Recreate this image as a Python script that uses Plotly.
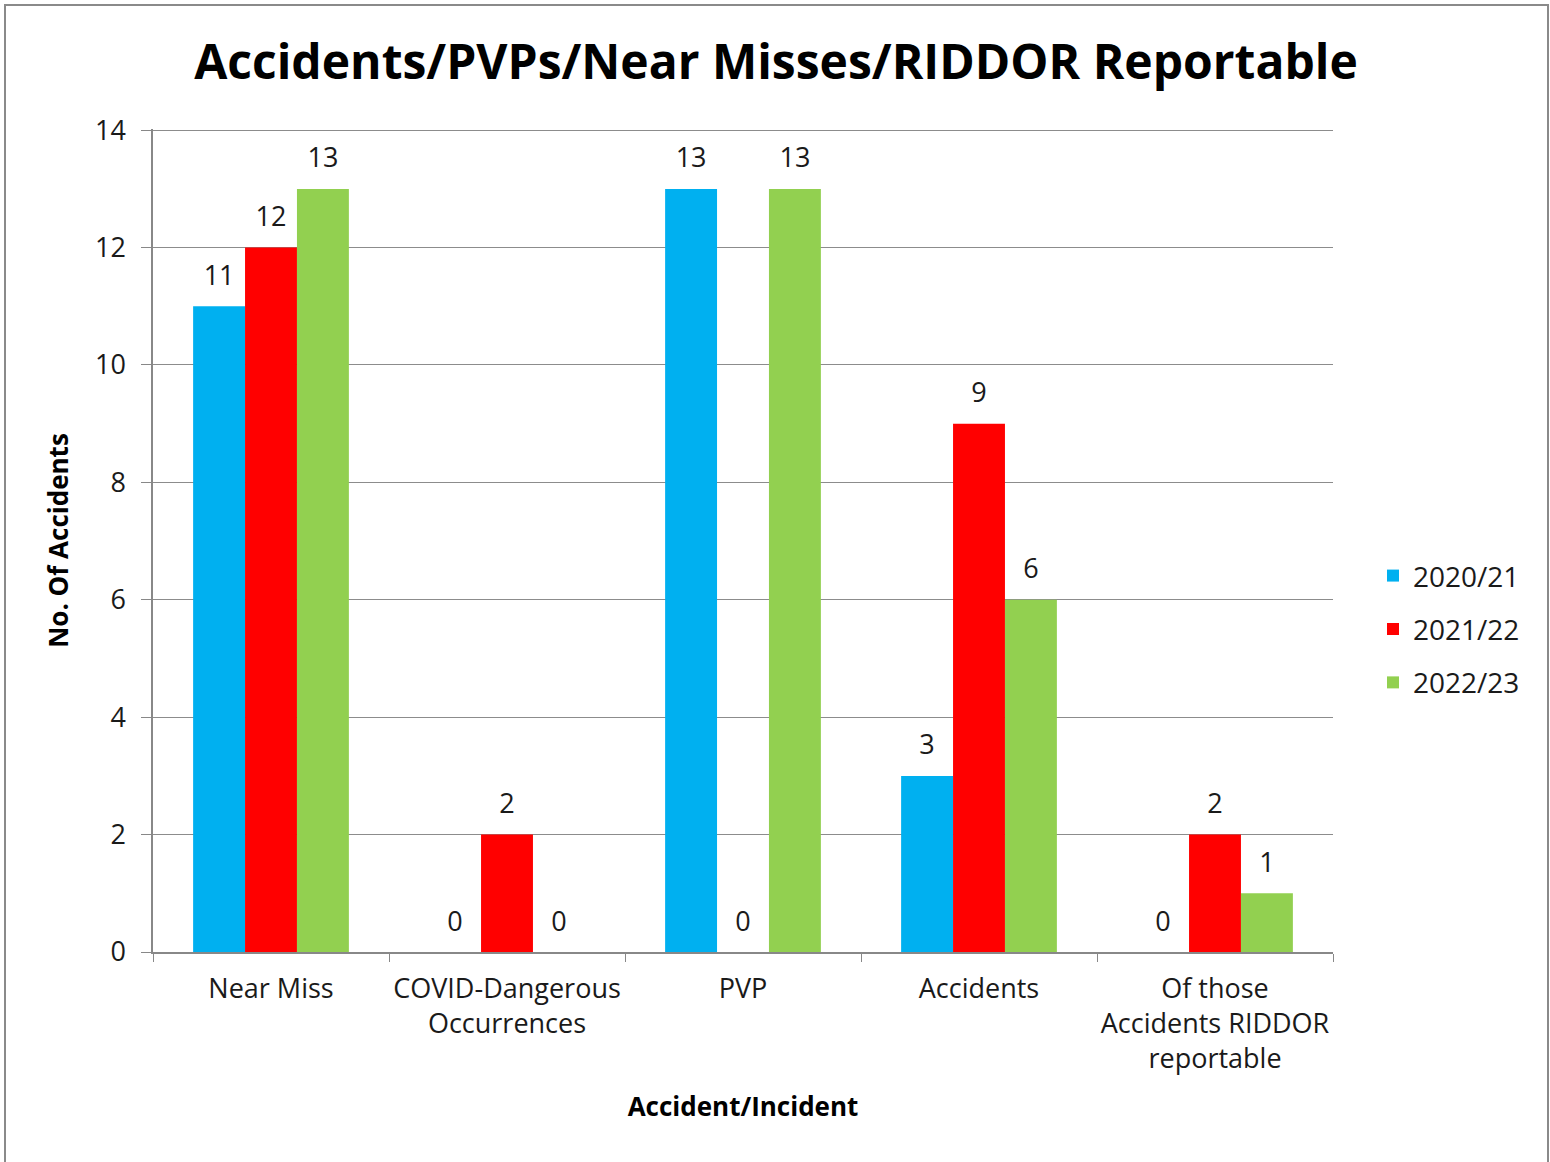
import plotly.graph_objects as go

categories = ["Near Miss", "COVID-Dangerous<br>Occurrences", "PVP", "Accidents",
              "Of those<br>Accidents RIDDOR<br>reportable"]
series_names = ["2020/21", "2021/22", "2022/23"]
values_2020 = [11, 0, 13, 3, 0]
values_2021 = [12, 2, 0, 9, 2]
values_2022 = [13, 0, 13, 6, 1]
colors = ["#00B0F0", "#FF0000", "#92D050"]
y_ticks = [0, 2, 4, 6, 8, 10, 12, 14]

FONT = "'Open Sans', sans-serif"
TXT = "#1a1a1a"
W, H = 1550, 1162
L, R, T, B = 153, 217, 129, 210
PW, PH = W - L - R, H - T - B

fig = go.Figure()
all_vals = [values_2020, values_2021, values_2022]
for i, (name, vals) in enumerate(zip(series_names, all_vals)):
    fig.add_trace(go.Bar(
        x=categories, y=vals, name=name, marker_color=colors[i], marker_line_width=0,
        legendgroup=name, offsetgroup=str(i),
    ))
for i, (name, vals) in enumerate(zip(series_names, all_vals)):
    fig.add_trace(go.Scatter(
        x=categories, y=vals, mode="markers+text", text=[str(v) for v in vals],
        textposition="top center", cliponaxis=False, showlegend=False, hoverinfo="skip",
        marker=dict(size=22, color="rgba(0,0,0,0)"),
        textfont=dict(size=27, color=TXT, family=FONT),
        offsetgroup=str(i), legendgroup=name,
    ))

fig.update_layout(
    width=W, height=H,
    paper_bgcolor="white", plot_bgcolor="white",
    font=dict(family=FONT, color=TXT),
    margin=dict(l=L, r=R, t=T, b=B, autoexpand=False),
    barmode="group", bargap=0.34, bargroupgap=0,
    scattermode="group", scattergap=0.34,
    title=dict(text="<b>Accidents/PVPs/Near Misses/RIDDOR Reportable</b>",
               x=776 / W, xanchor="center", y=1 - 62 / H, yanchor="middle",
               font=dict(size=48, family=FONT, color="black")),
    legend=dict(x=(1373 - 153) / PW, xanchor="left", y=0.392, yanchor="middle",
                font=dict(size=28, family=FONT, color=TXT),
                tracegroupgap=14, itemwidth=30, bgcolor="rgba(0,0,0,0)"),
    showlegend=True,
)
fig.update_xaxes(
    type="category", tickson="boundaries", ticks="outside", ticklen=8, tickcolor="#888888",
    showline=True, linecolor="#888888", linewidth=1.5, showgrid=False, tickangle=0,
    tickfont=dict(size=27, family=FONT, color=TXT), ticklabelstandoff=12,
    title=dict(text="<b>Accident/Incident</b>", font=dict(size=26, family=FONT, color="black"), standoff=22),
)
fig.update_yaxes(
    range=[0, 14.02], tickvals=y_ticks, ticks="outside", ticklen=10, tickcolor="#888888",
    showline=True, linecolor="#888888", linewidth=1.5,
    showgrid=True, gridcolor="#8c8c8c", gridwidth=1, zeroline=False,
    tickfont=dict(size=27, family=FONT, color=TXT), ticklabelstandoff=10,
    title=dict(text="<b>No. Of Accidents</b>", font=dict(size=26, family=FONT, color="black"), standoff=19),
)
# outer border
fig.add_shape(type="rect", xref="paper", yref="paper",
              x0=(5 - 153) / PW, x1=(1548 - 153) / PW,
              y0=(952 - 1180) / PH, y1=(952 - 5) / PH,
              line=dict(color="#8a8a8a", width=2), fillcolor="rgba(0,0,0,0)", layer="below")

fig.write_html("out.html", config={"displayModeBar": False},
               post_script="document.body.style.margin='0';document.body.style.overflow='hidden';")
